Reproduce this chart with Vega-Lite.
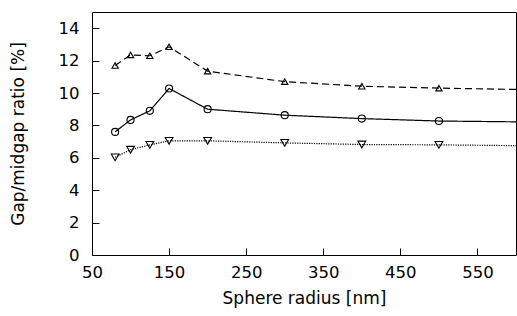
{
  "$schema": "https://vega.github.io/schema/vega-lite/v6.json",
  "width": 424,
  "height": 243,
  "autosize": {"type": "none"},
  "padding": {"left": 92, "top": 12, "right": 1, "bottom": 61},
  "background": "white",
  "config": {
    "view": {"stroke": "black", "strokeWidth": 1},
    "axis": {
      "domain": false,
      "grid": false,
      "labelColor": "black",
      "titleColor": "black",
      "labelFont": "DejaVu Sans",
      "titleFont": "DejaVu Sans",
      "labelFontSize": 16.5,
      "titleFontSize": 17,
      "titleFontWeight": "normal",
      "labelFlush": false
    }
  },
  "data": {
    "values": [
      {"s": "up", "x": 80, "y": 11.7},
      {"s": "up", "x": 100, "y": 12.35},
      {"s": "up", "x": 125, "y": 12.3},
      {"s": "up", "x": 150, "y": 12.85},
      {"s": "up", "x": 200, "y": 11.35},
      {"s": "up", "x": 300, "y": 10.7},
      {"s": "up", "x": 400, "y": 10.42},
      {"s": "up", "x": 500, "y": 10.3},
      {"s": "up", "x": 600, "y": 10.22},
      {"s": "circle", "x": 80, "y": 7.6},
      {"s": "circle", "x": 100, "y": 8.34},
      {"s": "circle", "x": 125, "y": 8.9},
      {"s": "circle", "x": 150, "y": 10.28},
      {"s": "circle", "x": 200, "y": 9.0},
      {"s": "circle", "x": 300, "y": 8.63},
      {"s": "circle", "x": 400, "y": 8.42},
      {"s": "circle", "x": 500, "y": 8.27},
      {"s": "circle", "x": 600, "y": 8.22},
      {"s": "down", "x": 80, "y": 6.03},
      {"s": "down", "x": 100, "y": 6.5},
      {"s": "down", "x": 125, "y": 6.8},
      {"s": "down", "x": 150, "y": 7.05},
      {"s": "down", "x": 200, "y": 7.05},
      {"s": "down", "x": 300, "y": 6.92},
      {"s": "down", "x": 400, "y": 6.82},
      {"s": "down", "x": 500, "y": 6.8},
      {"s": "down", "x": 600, "y": 6.75}
    ]
  },
  "encoding": {
    "x": {"field": "x", "type": "quantitative",
          "scale": {"domain": [50, 600], "nice": false, "zero": false},
          "axis": {"orient": "bottom", "values": [50, 150, 250, 350, 450, 550],
                   "ticks": true, "tickColor": "black", "tickWidth": 1, "tickSize": 7, "offset": -7,
                   "labelPadding": 9, "title": "Sphere radius [nm]", "titlePadding": 10}},
    "y": {"field": "y", "type": "quantitative",
          "scale": {"domain": [0, 15], "nice": false, "zero": false},
          "axis": {"orient": "left", "values": [0, 2, 4, 6, 8, 10, 12, 14],
                   "ticks": true, "tickColor": "black", "tickWidth": 1, "tickSize": 7, "offset": -7,
                   "labelPadding": 13, "title": "Gap/midgap ratio [%]", "titlePadding": 31}}
  },
  "layer": [
    {
      "mark": {"type": "line", "color": "black", "strokeWidth": 1.2, "clip": true},
      "encoding": {
        "detail": {"field": "s"},
        "strokeDash": {"field": "s", "type": "nominal",
                       "scale": {"domain": ["up", "circle", "down"], "range": [[7, 4], [1, 0], [1.2, 1.2]]},
                       "legend": null}
      }
    },
    {
      "transform": [{"filter": "datum.x < 600"}],
      "mark": {"type": "point", "filled": false, "color": "black", "strokeWidth": 1.1, "opacity": 1},
      "encoding": {
        "shape": {"field": "s", "type": "nominal",
                  "scale": {"domain": ["up", "circle", "down"], "range": ["triangle-up", "circle", "triangle-down"]},
                  "legend": null},
        "size": {"field": "s", "type": "nominal",
                 "scale": {"domain": ["up", "circle", "down"], "range": [40, 60, 40]},
                 "legend": null}
      }
    }
  ]
}
